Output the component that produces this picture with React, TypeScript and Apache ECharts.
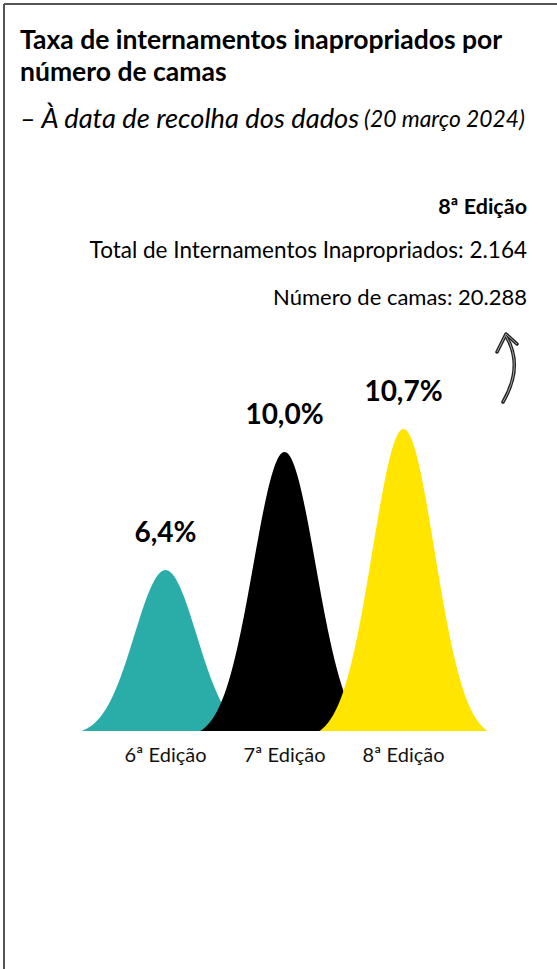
import React, { useEffect, useRef } from "react";
import * as echarts from "echarts";

const categories = ["6ª Edição", "7ª Edição", "8ª Edição"];
const rates = [6.4, 10.0, 10.7];
const rateLabels = ["6,4%", "10,0%", "10,7%"];
const colors = ["#2AACA9", "#000000", "#FFE500"];
const titleLines = ["Taxa de internamentos inapropriados por", "número de camas"];
const subtitleMain = "– À data de recolha dos dados";
const subtitleDate = "(20 março 2024)";
const infoLines = [
  "8ª Edição",
  "Total de Internamentos Inapropriados: 2.164",
  "Número de camas: 20.288",
];

const FONT = "Lato, 'Open Sans', sans-serif";
const Y_MIN = 1.5;
const Y_MAX = 13.5;

function bellPathData(): string {
  const W = 200;
  const H = 100;
  const sigma = W / 5.4;
  const edge = Math.exp(-((W / 2) ** 2) / (2 * sigma * sigma));
  let d = `M0,${H}`;
  for (let i = 0; i <= 120; i++) {
    const x = (i * W) / 120;
    const g = Math.exp(-((x - W / 2) ** 2) / (2 * sigma * sigma));
    const y = H - (H * (g - edge)) / (1 - edge);
    d += ` L${x.toFixed(2)},${y.toFixed(2)}`;
  }
  d += ` L${W},${H} Z`;
  return d;
}

export default function App() {
  const ref = useRef<HTMLDivElement>(null);
  useEffect(() => {
    if (!ref.current) return;
    const chart = echarts.init(ref.current, undefined, { renderer: "svg" });
    const bell = bellPathData();
    const bellWidth = 168;
    chart.setOption({
      animation: false,
      backgroundColor: "#ffffff",
      grid: { left: 106, width: 357, top: 337, bottom: 238, containLabel: false },
      xAxis: {
        type: "category",
        data: categories,
        axisLine: { show: false },
        axisTick: { show: false },
        axisLabel: { fontSize: 20, color: "#111", fontFamily: FONT, margin: 13 },
      },
      yAxis: { type: "value", min: Y_MIN, max: Y_MAX, show: false, splitLine: { show: false } },
      series: [
        {
          type: "custom",
          clip: false,
          encode: { x: 0, y: 1 },
          data: rates.map((v, i) => [i, v]),
          renderItem: (params: any, api: any) => {
            const i = params.dataIndex;
            const xv = api.value(0);
            const v = api.value(1);
            const base = api.coord([xv, Y_MIN]);
            const top = api.coord([xv, v]);
            return {
              type: "group",
              children: [
                {
                  type: "path",
                  shape: {
                    pathData: bell,
                    x: top[0] - bellWidth / 2,
                    y: top[1],
                    width: bellWidth,
                    height: base[1] - top[1],
                    layout: "cover",
                  },
                  style: { fill: colors[i] },
                },
                {
                  type: "text",
                  x: top[0],
                  y: top[1] - 25,
                  style: {
                    text: rateLabels[i],
                    font: `bold 28px ${FONT}`,
                    fill: "#000",
                    align: "center",
                    verticalAlign: "bottom",
                  },
                },
              ],
            };
          },
        },
      ],
      graphic: [
        { type: "line", shape: { x1: 4, y1: 4, x2: 557, y2: 4 }, style: { stroke: "#555", lineWidth: 2 } },
        { type: "line", shape: { x1: 4, y1: 4, x2: 4, y2: 969 }, style: { stroke: "#555", lineWidth: 2 } },
        {
          type: "text",
          left: 20,
          top: 25,
          style: { text: titleLines[0], font: `bold 26.5px ${FONT}`, fill: "#000" },
        },
        {
          type: "text",
          left: 20,
          top: 57,
          style: { text: titleLines[1], font: `bold 26.5px ${FONT}`, fill: "#000" },
        },
        {
          type: "text",
          left: 20,
          top: 104,
          style: {
            text: `{a|${subtitleMain}} {b|${subtitleDate}}`,
            rich: {
              a: { font: `italic 27.3px ${FONT}`, fill: "#000" },
              b: { font: `italic 22.8px ${FONT}`, fill: "#000" },
            },
          },
        },
        {
          type: "text",
          right: 30,
          top: 195,
          style: { text: infoLines[0], font: `bold 21.5px ${FONT}`, fill: "#000", align: "right" },
        },
        {
          type: "text",
          right: 30,
          top: 238,
          style: { text: infoLines[1], font: `22.5px ${FONT}`, fill: "#000", align: "right" },
        },
        {
          type: "text",
          right: 30,
          top: 285,
          style: { text: infoLines[2], font: `22px ${FONT}`, fill: "#000", align: "right" },
        },
        {
          type: "bezierCurve",
          shape: { x1: 503, y1: 402, cpx1: 524, cpy1: 366, x2: 506, y2: 336 },
          style: { stroke: "#222", lineWidth: 3.5, fill: null, lineCap: "round" },
        },
        {
          type: "polyline",
          shape: { points: [[497, 352], [506, 334], [517, 344]] },
          style: { stroke: "#222", lineWidth: 3.5, fill: null, lineCap: "round", lineJoin: "round" },
        },
        {
          type: "bezierCurve",
          shape: { x1: 503, y1: 402, cpx1: 524, cpy1: 366, x2: 506, y2: 336 },
          style: { stroke: "#aaa", lineWidth: 1, fill: null },
        },
        {
          type: "polyline",
          shape: { points: [[497, 352], [506, 334], [517, 344]] },
          style: { stroke: "#aaa", lineWidth: 1, fill: null },
        },
      ],
    });
    return () => chart.dispose();
  }, []);
  return (
    <div
      ref={ref}
      style={{ position: "absolute", left: 0, top: 0, width: 557, height: 969 }}
    />
  );
}
